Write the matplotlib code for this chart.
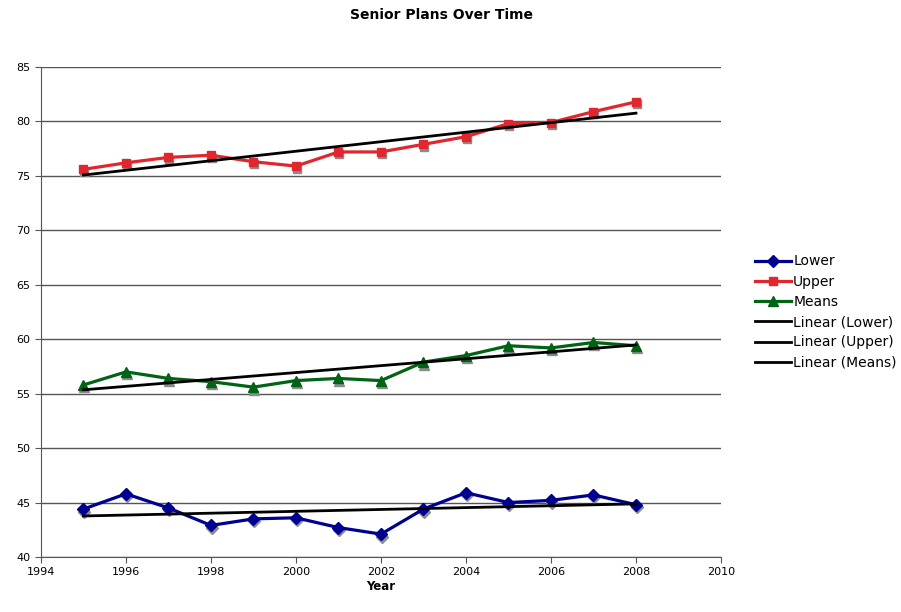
import numpy as np
import matplotlib.pyplot as plt
import matplotlib.transforms as mtransforms

# ── data ─────────────────────────────────────────────
years = [1995, 1996, 1997, 1998, 1999, 2000, 2001,
         2002, 2003, 2004, 2005, 2006, 2007, 2008]
lower = [44.4, 45.8, 44.5, 42.9, 43.5, 43.6, 42.7,
         42.1, 44.4, 45.9, 45.0, 45.2, 45.7, 44.8]
upper = [75.6, 76.2, 76.7, 76.9, 76.3, 75.9, 77.2,
         77.2, 77.9, 78.6, 79.8, 79.9, 80.9, 81.8]
means = [55.8, 57.0, 56.4, 56.1, 55.6, 56.2, 56.4,
         56.2, 57.9, 58.5, 59.4, 59.2, 59.7, 59.4]

series = [
    ("Lower", lower, "#000090", "D", 6),
    ("Upper", upper, "#E0262E", "s", 5.5),
    ("Means", means, "#006414", "^", 7),
]

plt.rcParams["font.family"] = "DejaVu Sans"

fig = plt.figure(figsize=(9.01, 6.12), dpi=100)
ax = fig.add_axes([0.0455, 0.0899, 0.7547, 0.8006])

x = np.array(years, dtype=float)
# grey drop shadow under the markers
shadow = mtransforms.offset_copy(ax.transData, fig=fig, x=1, y=-2.5, units="dots")

handles = []
for name, vals, col, mk, ms in series:
    ax.plot(x, vals, linestyle="none", marker=mk, markersize=ms,
            color="#8C8C8C", transform=shadow, zorder=3)
    h, = ax.plot(x, vals, color=col, lw=2.3, marker=mk, markersize=ms,
                 markeredgecolor=col, zorder=4, label=name)
    handles.append(h)

# linear trend lines
for name, vals, col, mk, ms in series:
    k, b = np.polyfit(x, vals, 1)
    h, = ax.plot(x, k * x + b, color="black", lw=2, zorder=5,
                 label=f"Linear ({name})")
    handles.append(h)

ax.set_xlim(1994, 2010)
ax.set_ylim(40, 85)
ax.set_xticks(range(1994, 2011, 2))
ax.set_yticks(range(40, 86, 5))
ax.tick_params(labelsize=8, direction="out", length=4, width=0.8, color="#555555")
ax.yaxis.grid(True, color="#555555", lw=1)
ax.set_axisbelow(True)
for s in ["top", "right"]:
    ax.spines[s].set_visible(False)
for s in ["left", "bottom"]:
    ax.spines[s].set_color("#555555")

ax.set_xlabel("Year", fontsize=8.5, fontweight="bold", labelpad=2)
fig.text(0.49, 0.975, "Senior Plans Over Time", ha="center", va="center",
         fontsize=10, fontweight="bold")

ax.legend(handles=handles, loc="center left", bbox_to_anchor=(1.05, 0.5),
          frameon=False, fontsize=10, handlelength=2.6, handletextpad=0.15,
          labelspacing=0.45, borderaxespad=0, borderpad=0)

plt.savefig("out.png", dpi=100)
